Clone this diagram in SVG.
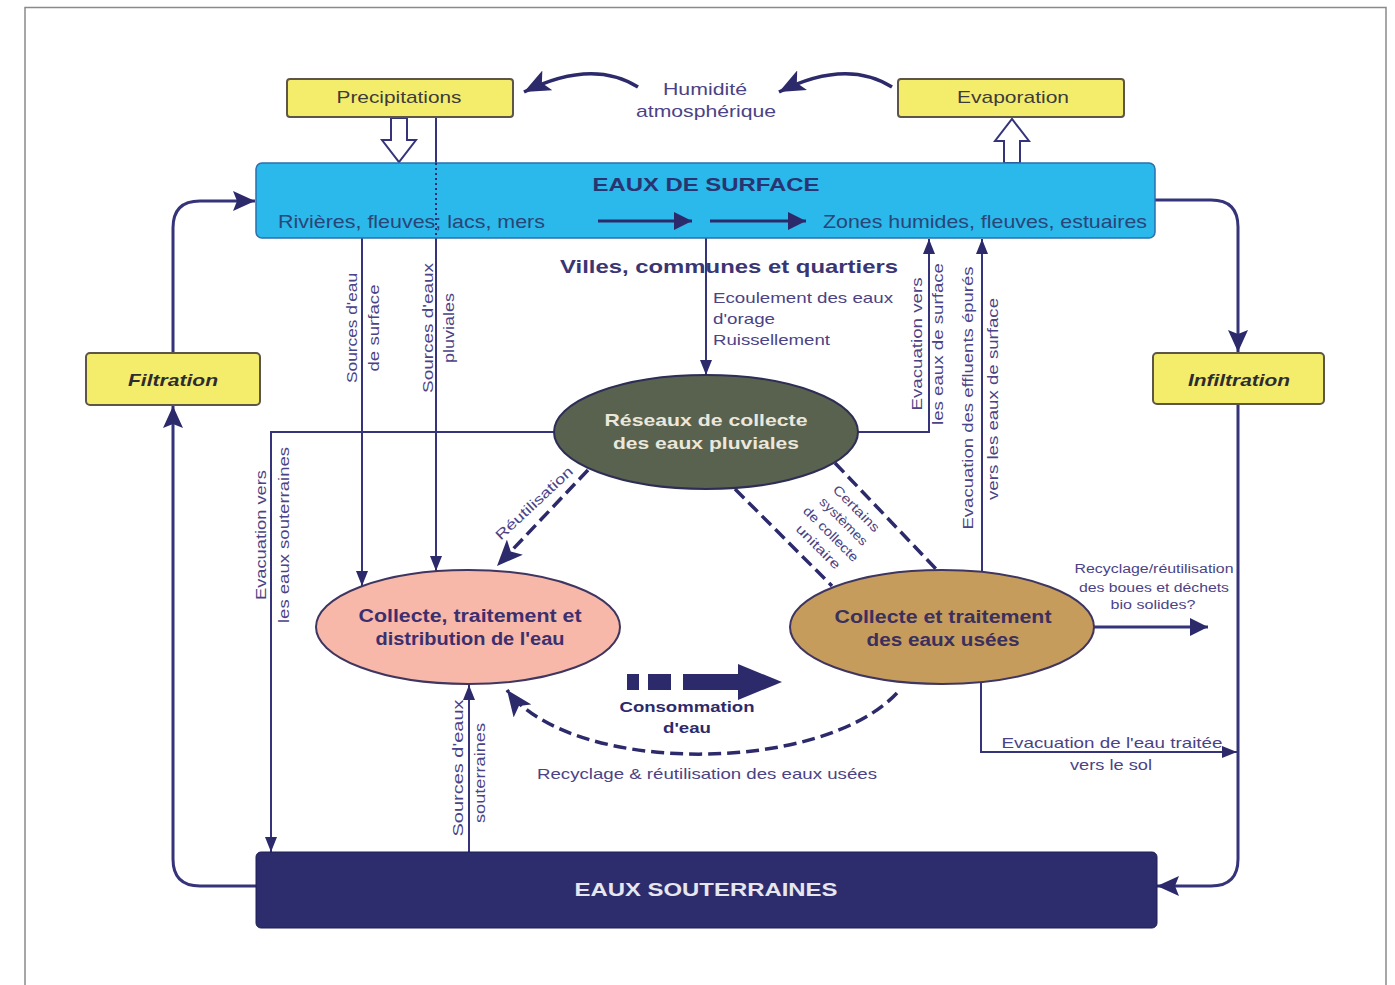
<svg xmlns="http://www.w3.org/2000/svg" width="1395" height="985" viewBox="0 0 1395 985">
<defs>
<style>
.t{font-family:"Liberation Sans",Arial,sans-serif;fill:#4b4385}
.lab{font-size:14px}
.mid{text-anchor:middle}
.ln{fill:none;stroke:#35347a;stroke-width:2}
.lp{fill:none;stroke:#35347a;stroke-width:3}
.yb{fill:#f4ed6c;stroke:#5d5546;stroke-width:2}
.dsh{fill:none;stroke:#2c2a6b;stroke-width:3.5;stroke-dasharray:13 6}
</style>
<marker id="a" markerUnits="userSpaceOnUse" markerWidth="15" markerHeight="12" refX="15" refY="6" orient="auto"><path d="M0,0 L15,6 L0,12 z" fill="#2c2a6b"/></marker>
<marker id="ab" markerUnits="userSpaceOnUse" markerWidth="22" markerHeight="20" refX="22" refY="10" orient="auto"><path d="M0,0 L22,10 L0,20 L4,10 z" fill="#2c2a6b"/></marker>
<marker id="ac" markerUnits="userSpaceOnUse" markerWidth="26" markerHeight="22" refX="26" refY="11" orient="auto"><path d="M0,0 L26,11 L0,22 L6,11 z" fill="#2c2a6b"/></marker>
<marker id="am" markerUnits="userSpaceOnUse" markerWidth="18" markerHeight="18" refX="18" refY="9" orient="auto"><path d="M0,0 L18,9 L0,18 z" fill="#2c2a6b"/></marker>
</defs>
<rect width="1395" height="985" fill="#ffffff"/>
<path d="M25,985 L25,7.5 L1386,7.5 L1386,985" fill="none" stroke="#8a8a8a" stroke-width="1.5"/>

<g id="connectors">
  <path d="M638,87 Q592,58 524,92" fill="none" stroke="#2c2a6b" stroke-width="3.5" marker-end="url(#ac)"/>
  <path d="M892,87 Q846,58 779,92" fill="none" stroke="#2c2a6b" stroke-width="3.5" marker-end="url(#ac)"/>
  <polygon points="391,118 407,118 407,140 416,140 399,162 382,140 391,140" fill="#ffffff" stroke="#35347a" stroke-width="2"/>
  <polygon points="1004,163 1020,163 1020,141 1029,141 1012,119 995,141 1004,141" fill="#ffffff" stroke="#35347a" stroke-width="2"/>
  <path class="ln" d="M436,118 L436,163"/>
  <path class="ln" d="M436,238 L436,571" marker-end="url(#a)"/>
  <path class="ln" d="M362,238 L362,586" marker-end="url(#a)"/>
  <path class="ln" d="M706,238 L706,375" marker-end="url(#a)"/>
  <path class="ln" d="M554,432 L271,432 L271,852" marker-end="url(#a)"/>
  <path class="ln" d="M858,432 L929,432 L929,239" marker-end="url(#a)"/>
  <path class="ln" d="M982,572 L982,239" marker-end="url(#a)"/>
  <path class="ln" d="M981,683 L981,752 L1237,752" marker-end="url(#a)"/>
  <path class="lp" d="M1094,627 L1208,627" marker-end="url(#am)"/>
  <path class="ln" d="M469,852 L469,685" marker-end="url(#a)"/>
  <path class="lp" d="M173,353 L173,228 Q173,201 200,201 L255,201" marker-end="url(#ab)"/>
  <path class="lp" d="M256,886 L200,886 Q173,886 173,859 L173,406" marker-end="url(#ab)"/>
  <path class="lp" d="M1155,200 L1211,200 Q1238,200 1238,227 L1238,352" marker-end="url(#ab)"/>
  <path class="lp" d="M1238,404 L1238,859 Q1238,886 1211,886 L1157,886" marker-end="url(#ab)"/>
  <path class="dsh" d="M588,470 L497,566" marker-end="url(#ac)"/>
  <path class="dsh" d="M735,489 L832,586"/>
  <path class="dsh" d="M835,463 L937,570"/>
  <path class="dsh" stroke-width="3" d="M897,693 C820,775 570,775 507,690" marker-end="url(#ac)"/>
  <g fill="#2c2a6b">
    <rect x="627" y="674" width="12" height="16"/>
    <rect x="648" y="674" width="23" height="16"/>
    <rect x="683" y="674" width="57" height="16"/>
    <polygon points="738,664 782,682 738,700"/>
  </g>
</g>

<g id="humidite">
  <text class="t mid" x="705" y="95" font-size="17" textLength="84" lengthAdjust="spacingAndGlyphs">Humidité</text>
  <text class="t mid" x="706" y="117" font-size="17" textLength="140" lengthAdjust="spacingAndGlyphs">atmosphérique</text>
</g>

<g id="precipitations">
  <rect class="yb" x="287" y="79" width="226" height="38" rx="3"/>
  <text class="t mid" x="399" y="103" font-size="17" style="fill:#3d3b3b" textLength="125" lengthAdjust="spacingAndGlyphs">Precipitations</text>
</g>
<g id="evaporation">
  <rect class="yb" x="898" y="79" width="226" height="38" rx="3"/>
  <text class="t mid" x="1013" y="103" font-size="17" style="fill:#3d3b3b" textLength="112" lengthAdjust="spacingAndGlyphs">Evaporation</text>
</g>

<g id="eaux-surface">
  <rect x="256" y="163" width="899" height="75" rx="6" fill="#2bb8ea" stroke="#2a6fae" stroke-width="1.5"/>
  <path d="M436,163 L436,238" stroke="#2c2a6b" stroke-width="2" stroke-dasharray="2 3"/>
  <text class="t mid" x="706" y="191" font-size="19" font-weight="bold" style="fill:#2a3470" textLength="227" lengthAdjust="spacingAndGlyphs">EAUX DE SURFACE</text>
  <text class="t" x="278" y="228" font-size="19" style="fill:#2a4578" textLength="267" lengthAdjust="spacingAndGlyphs">Rivières, fleuves; lacs, mers</text>
  <text class="t" x="823" y="228" font-size="19" style="fill:#2a4578" textLength="324" lengthAdjust="spacingAndGlyphs">Zones humides, fleuves, estuaires</text>
  <path d="M598,221 L692,221" stroke="#2c2a6b" stroke-width="3" marker-end="url(#am)"/>
  <path d="M710,221 L806,221" stroke="#2c2a6b" stroke-width="3" marker-end="url(#am)"/>
</g>

<g id="villes">
  <text class="t" x="560" y="273" font-size="19" font-weight="bold" style="fill:#3a3573" textLength="338" lengthAdjust="spacingAndGlyphs">Villes, communes et quartiers</text>
  <text class="t" x="713" y="303" font-size="15" textLength="180" lengthAdjust="spacingAndGlyphs">Ecoulement des eaux</text>
  <text class="t" x="713" y="324" font-size="15" textLength="62" lengthAdjust="spacingAndGlyphs">d'orage</text>
  <text class="t" x="713" y="345" font-size="15" textLength="117" lengthAdjust="spacingAndGlyphs">Ruissellement</text>
</g>

<g id="filtration">
  <rect class="yb" x="86" y="353" width="174" height="52" rx="4"/>
  <text class="t mid" x="173" y="386" font-size="17" font-weight="bold" font-style="italic" style="fill:#2e2c30" textLength="90" lengthAdjust="spacingAndGlyphs">Filtration</text>
</g>
<g id="infiltration">
  <rect class="yb" x="1153" y="353" width="171" height="51" rx="4"/>
  <text class="t mid" x="1239" y="386" font-size="17" font-weight="bold" font-style="italic" style="fill:#2e2c30" textLength="102" lengthAdjust="spacingAndGlyphs">Infiltration</text>
</g>

<g id="reseaux">
  <ellipse cx="706" cy="432" rx="152" ry="57" fill="#58624f" stroke="#2e2d55" stroke-width="2"/>
  <text class="t mid" x="706" y="426" font-size="17" font-weight="bold" style="fill:#ebe7dc" textLength="203" lengthAdjust="spacingAndGlyphs">Réseaux de collecte</text>
  <text class="t mid" x="706" y="449" font-size="17" font-weight="bold" style="fill:#ebe7dc" textLength="186" lengthAdjust="spacingAndGlyphs">des eaux pluviales</text>
</g>

<g id="collecte-distribution">
  <ellipse cx="468" cy="627" rx="152" ry="57" fill="#f7b8a9" stroke="#3e3560" stroke-width="2"/>
  <text class="t mid" x="470" y="622" font-size="18" font-weight="bold" style="fill:#3c2f6e" textLength="223" lengthAdjust="spacingAndGlyphs">Collecte, traitement et</text>
  <text class="t mid" x="470" y="645" font-size="18" font-weight="bold" style="fill:#3c2f6e" textLength="189" lengthAdjust="spacingAndGlyphs">distribution de l'eau</text>
</g>

<g id="eaux-usees">
  <ellipse cx="942" cy="627" rx="152" ry="57" fill="#c69c5c" stroke="#3e3560" stroke-width="2"/>
  <text class="t mid" x="943" y="623" font-size="18" font-weight="bold" style="fill:#3b2f5c" textLength="217" lengthAdjust="spacingAndGlyphs">Collecte et traitement</text>
  <text class="t mid" x="943" y="646" font-size="18" font-weight="bold" style="fill:#3b2f5c" textLength="153" lengthAdjust="spacingAndGlyphs">des eaux usées</text>
</g>

<g id="eaux-souterraines">
  <rect x="256" y="852" width="901" height="76" rx="5" fill="#2d2c6c" stroke="#1f1e55" stroke-width="1"/>
  <text class="t mid" x="706" y="896" font-size="19" font-weight="bold" style="fill:#e6e6ef" textLength="263" lengthAdjust="spacingAndGlyphs">EAUX SOUTERRAINES</text>
</g>

<g id="connector-labels">
  <text class="t lab mid" transform="translate(357,328) rotate(-90)" textLength="110" lengthAdjust="spacingAndGlyphs">Sources d'eau</text>
  <text class="t lab mid" transform="translate(379,328) rotate(-90)" textLength="87" lengthAdjust="spacingAndGlyphs">de surface</text>
  <text class="t lab mid" transform="translate(433,328) rotate(-90)" textLength="130" lengthAdjust="spacingAndGlyphs">Sources d'eaux</text>
  <text class="t lab mid" transform="translate(454,328) rotate(-90)" textLength="70" lengthAdjust="spacingAndGlyphs">pluviales</text>
  <text class="t lab mid" transform="translate(266,535) rotate(-90)" textLength="130" lengthAdjust="spacingAndGlyphs">Evacuation vers</text>
  <text class="t lab mid" transform="translate(289,535) rotate(-90)" textLength="176" lengthAdjust="spacingAndGlyphs">les eaux souterraines</text>
  <text class="t lab mid" transform="translate(922,344) rotate(-90)" textLength="133" lengthAdjust="spacingAndGlyphs">Evacuation vers</text>
  <text class="t lab mid" transform="translate(943,344) rotate(-90)" textLength="162" lengthAdjust="spacingAndGlyphs">les eaux de surface</text>
  <text class="t lab mid" transform="translate(973,398) rotate(-90)" textLength="263" lengthAdjust="spacingAndGlyphs">Evacuation des effluents épurés</text>
  <text class="t lab mid" transform="translate(998,399) rotate(-90)" textLength="202" lengthAdjust="spacingAndGlyphs">vers les eaux de surface</text>
  <text class="t lab mid" transform="translate(463,768) rotate(-90)" textLength="137" lengthAdjust="spacingAndGlyphs">Sources d'eaux</text>
  <text class="t lab mid" transform="translate(485,773) rotate(-90)" textLength="100" lengthAdjust="spacingAndGlyphs">souterraines</text>
  <text class="t lab mid" transform="translate(534,503) rotate(-43)" y="5" textLength="100" lengthAdjust="spacingAndGlyphs">Réutilisation</text>
  <g transform="translate(837,528) rotate(45)">
    <text class="t mid" font-size="13" y="-23" textLength="60" lengthAdjust="spacingAndGlyphs">Certains</text>
    <text class="t mid" font-size="13" y="-5" textLength="62" lengthAdjust="spacingAndGlyphs">systèmes</text>
    <text class="t mid" font-size="13" y="13" textLength="72" lengthAdjust="spacingAndGlyphs">de collecte</text>
    <text class="t mid" font-size="13" y="31" textLength="57" lengthAdjust="spacingAndGlyphs">unitaire</text>
  </g>
  <text class="t mid" x="1154" y="573" font-size="12.5" textLength="159" lengthAdjust="spacingAndGlyphs">Recyclage/réutilisation</text>
  <text class="t mid" x="1154" y="592" font-size="12.5" textLength="150" lengthAdjust="spacingAndGlyphs">des boues et déchets</text>
  <text class="t mid" x="1153" y="609" font-size="12.5" textLength="85" lengthAdjust="spacingAndGlyphs">bio solides?</text>
  <text class="t mid" x="1112" y="748" font-size="15" textLength="221" lengthAdjust="spacingAndGlyphs">Evacuation de l'eau traitée</text>
  <text class="t mid" x="1111" y="770" font-size="15" textLength="82" lengthAdjust="spacingAndGlyphs">vers le sol</text>
  <text class="t mid" x="687" y="712" font-size="15" font-weight="bold" style="fill:#2c2a6b" textLength="135" lengthAdjust="spacingAndGlyphs">Consommation</text>
  <text class="t mid" x="687" y="733" font-size="15" font-weight="bold" style="fill:#2c2a6b" textLength="48" lengthAdjust="spacingAndGlyphs">d'eau</text>
  <text class="t mid" x="707" y="779" font-size="15" textLength="340" lengthAdjust="spacingAndGlyphs">Recyclage &amp; réutilisation des eaux usées</text>
</g>
</svg>
